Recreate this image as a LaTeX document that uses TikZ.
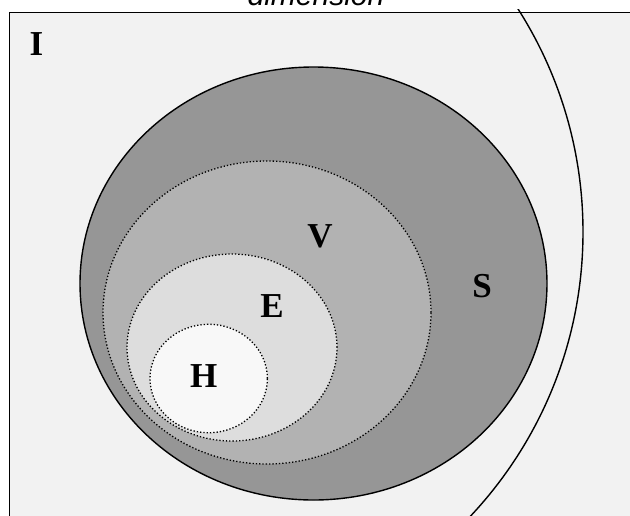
\documentclass[tikz,border=0pt]{standalone}
\usepackage{fontspec}
\setmainfont{Liberation Serif}
\setsansfont{Liberation Sans}
\usepackage{xcolor}
\definecolor{panelgray}{gray}{0.949}
\definecolor{sgray}{gray}{0.588}
\definecolor{vgray}{gray}{0.698}
\definecolor{egray}{gray}{0.867}
\definecolor{hgray}{gray}{0.973}

\begin{document}
\begin{tikzpicture}[
    x=1pt,
    y=-1pt,
    solidline/.style={
        draw=black,
        line width=1.4pt
    },
    dotline/.style={
        draw=black,
        dotted,
        line width=1.3pt
    },
    setlabel/.style={
        font=\bfseries\fontsize{35}{35}\selectfont,
        inner sep=0pt
    }
]

\useasboundingbox (0,0) rectangle (630,515);
\fill[white] (0,0) rectangle (630,515);

\draw[solidline, fill=panelgray] (9.5,12.5) rectangle (650,540);

\begin{scope}
\clip (0,9) rectangle (630,515);
\draw[solidline] (168,232) circle[radius=415pt];
\end{scope}

\draw[solidline, fill=sgray] (313.5,283.5) ellipse[x radius=233.5pt, y radius=216.5pt];
\draw[dotline, fill=vgray] (267,312.5) ellipse[x radius=164pt, y radius=151.5pt];
\draw[dotline, fill=egray] (232,347.5) ellipse[x radius=105pt, y radius=93.5pt];
\draw[dotline, fill=hgray] (208.7,378.5) ellipse[x radius=58.7pt, y radius=54.2pt];

\node[setlabel] (i) at (36.5,44.5) {I};
\node[setlabel] (s) at (482,286) {S};
\node[setlabel] (v) at (320,236) {V};
\node[setlabel] (e) at (272,306) {E};
\node[setlabel] (h) at (203.7,376) {H};

\node[font=\sffamily\itshape\fontsize{30}{30}\selectfont, inner sep=0pt, anchor=base] (dim) at (316,5) {dimension};

\end{tikzpicture}
\end{document}
